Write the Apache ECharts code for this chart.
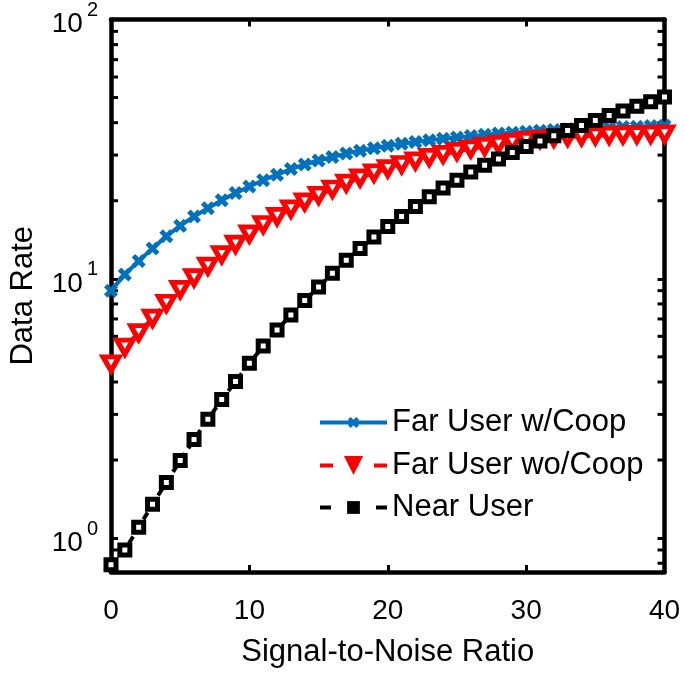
<!DOCTYPE html>
<html>
<head>
<meta charset="utf-8">
<script src="https://cdn.jsdelivr.net/npm/echarts@6/dist/echarts.min.js"></script>
<style>html,body{margin:0;padding:0;background:#fff}#c{width:685px;height:673px}</style>
</head>
<body>
<div id="c"></div>
<script>
const snr = [0,1,2,3,4,5,6,7,8,9,10,11,12,13,14,15,16,17,18,19,20,21,22,23,24,25,26,27,28,29,30,31,32,33,34,35,36,37,38,39,40];
const farCoop = [9.0,10.4,11.7,13.1,14.6,16.0,17.4,18.7,20.1,21.4,22.7,24.0,25.2,26.5,27.6,28.6,29.5,30.4,31.2,31.9,32.6,33.2,33.7,34.2,34.7,35.1,35.5,35.9,36.3,36.6,36.9,37.2,37.5,37.7,37.9,38.1,38.3,38.5,38.6,38.8,38.9];
const farNoCoop = [4.7,5.45,6.2,7.05,8.05,9.1,10.1,11.2,12.4,13.6,14.9,16.2,17.4,18.6,19.8,21.0,22.2,23.4,24.5,25.6,26.6,27.6,28.5,29.4,30.2,31.0,31.7,32.4,33.0,33.6,34.2,34.6,34.9,35.2,35.4,35.6,35.8,35.9,36.0,36.1,36.2];
const nearUser = [0.79,0.90,1.10,1.35,1.64,1.99,2.40,2.87,3.42,4.02,4.72,5.5,6.35,7.25,8.25,9.3,10.5,11.8,13.1,14.5,15.9,17.4,19.0,20.7,22.4,24.0,25.8,27.4,29.0,30.7,32.4,34.0,35.6,37.3,39.0,40.8,42.6,44.4,46.3,48.2,50.2];
const seriesNames = ['Far User w/Coop','Far User wo/Coop','Near User'];
const xTicks = [0,10,20,30,40];
const yMajor = [1,10,100];
const yMinor = [0.8,0.9,2,3,4,5,6,7,8,9,20,30,40,50,60,70,80,90];
const xLabel = 'Signal-to-Noise Ratio';
const yLabel = 'Data Rate';

const FONT = 'Liberation Sans';
const BLUE = '#0072BD', RED = '#FF0000', BLACK = '#000000';
const xSymbol = 'path://M0,2.5 L2.5,0 L5,2.5 L7.5,0 L10,2.5 L7.5,5 L10,7.5 L7.5,10 L5,7.5 L2.5,10 L0,7.5 L2.5,5 Z';

const chart = echarts.init(document.getElementById('c'), null, {renderer:'canvas'});
const pairs = arr => snr.map((x,i)=>[x, arr[i]]);

const axisCommon = {
  axisLine:{show:true, onZero:false, lineStyle:{color:'#000', width:4.5}},
  axisTick:{show:true, inside:true, length:7, lineStyle:{color:'#000', width:3}},
  splitLine:{show:false}
};

function yFmt(v){
  const e = Math.round(Math.log10(v));
  if (Math.abs(v - Math.pow(10,e)) > 1e-6*v) return '';
  if (yMajor.indexOf(Math.pow(10,e)) < 0) return '';
  return '{b|10}{s|' + e + '}';
}

function legendFor(i, top, itemH, dash){
  return {
    data:[{name:seriesNames[i], itemStyle:{color:[BLUE,RED,BLACK][i], borderWidth:0},
      lineStyle:{width:4, type:dash, color:[BLUE,RED,BLACK][i]}}],
    orient:'vertical', left:318, top:top, padding:0,
    itemWidth:67, itemHeight:itemH,
    textStyle:{fontFamily:FONT, fontSize:31, color:'#000'},
    selectedMode:false
  };
}

chart.setOption({
  animation:false,
  backgroundColor:'#fff',
  grid:{left:103.5, right:20.5, top:19.5, bottom:93, containLabel:false},
  xAxis:[
    Object.assign({type:'value', min:0, max:40, interval:10, position:'bottom',
      name:xLabel, nameLocation:'middle', nameGap:65,
      nameTextStyle:{fontFamily:FONT, fontSize:31, color:'#000'},
      axisLabel:{fontFamily:FONT, fontSize:28, color:'#000', margin:25}}, axisCommon),
    Object.assign({type:'value', min:0, max:40, interval:10, position:'top',
      axisLabel:{show:false}}, axisCommon)
  ],
  yAxis:[
    Object.assign({type:'log', logBase:10, min:0.74, max:100, position:'left',
      name:yLabel, nameLocation:'middle', nameGap:72,
      nameTextStyle:{fontFamily:FONT, fontSize:31, color:'#000'},
      axisLabel:{formatter:yFmt, margin:13, padding:[10,0,0,0],
        rich:{
          b:{fontFamily:FONT, fontSize:28, lineHeight:28, color:'#000', verticalAlign:'bottom'},
          s:{fontFamily:FONT, fontSize:20, lineHeight:20, color:'#000', verticalAlign:'bottom', padding:[0,0,18,4]}
        }}}, axisCommon),
    Object.assign({type:'log', logBase:10, min:0.74, max:100, position:'right',
      axisLabel:{show:false}}, axisCommon)
  ],
  legend:[legendFor(0, 407, 14, 'solid'), legendFor(1, 450, 24, [13,41]), legendFor(2, 492, 16, [11,45])],
  series:[
    {type:'custom', name:'minorTicks', silent:true, clip:false, z:1,
      data: yMinor.map(v=>[0,v]),
      renderItem:function(params, api){
        const v = api.value(1);
        const pl = api.coord([0, v]);
        const pr = api.coord([40, v]);
        return {type:'group', children:[
          {type:'line', shape:{x1:pl[0], y1:pl[1], x2:pl[0]+7, y2:pl[1]}, style:{stroke:'#000', lineWidth:3}},
          {type:'line', shape:{x1:pr[0], y1:pr[1], x2:pr[0]-7, y2:pr[1]}, style:{stroke:'#000', lineWidth:3}}
        ]};
      }},
    {type:'line', name:seriesNames[0], data:pairs(farCoop), z:2,
      symbol:xSymbol, symbolSize:14, showAllSymbol:true,
      lineStyle:{color:BLUE, width:4},
      itemStyle:{color:BLUE, borderWidth:0}},
    {type:'line', name:seriesNames[1], data:pairs(farNoCoop), z:3,
      symbol:'triangle', symbolRotate:180, symbolSize:[16,14], showAllSymbol:true,
      lineStyle:{color:RED, width:4, type:[10,6]},
      itemStyle:{color:'#fff', borderColor:RED, borderWidth:5}},
    {type:'line', name:seriesNames[2], data:pairs(nearUser), z:4,
      symbol:'rect', symbolSize:10, showAllSymbol:true,
      lineStyle:{color:BLACK, width:4, type:[8,6]},
      itemStyle:{color:'#fff', borderColor:BLACK, borderWidth:5}}
  ]
});
</script>
</body>
</html>
